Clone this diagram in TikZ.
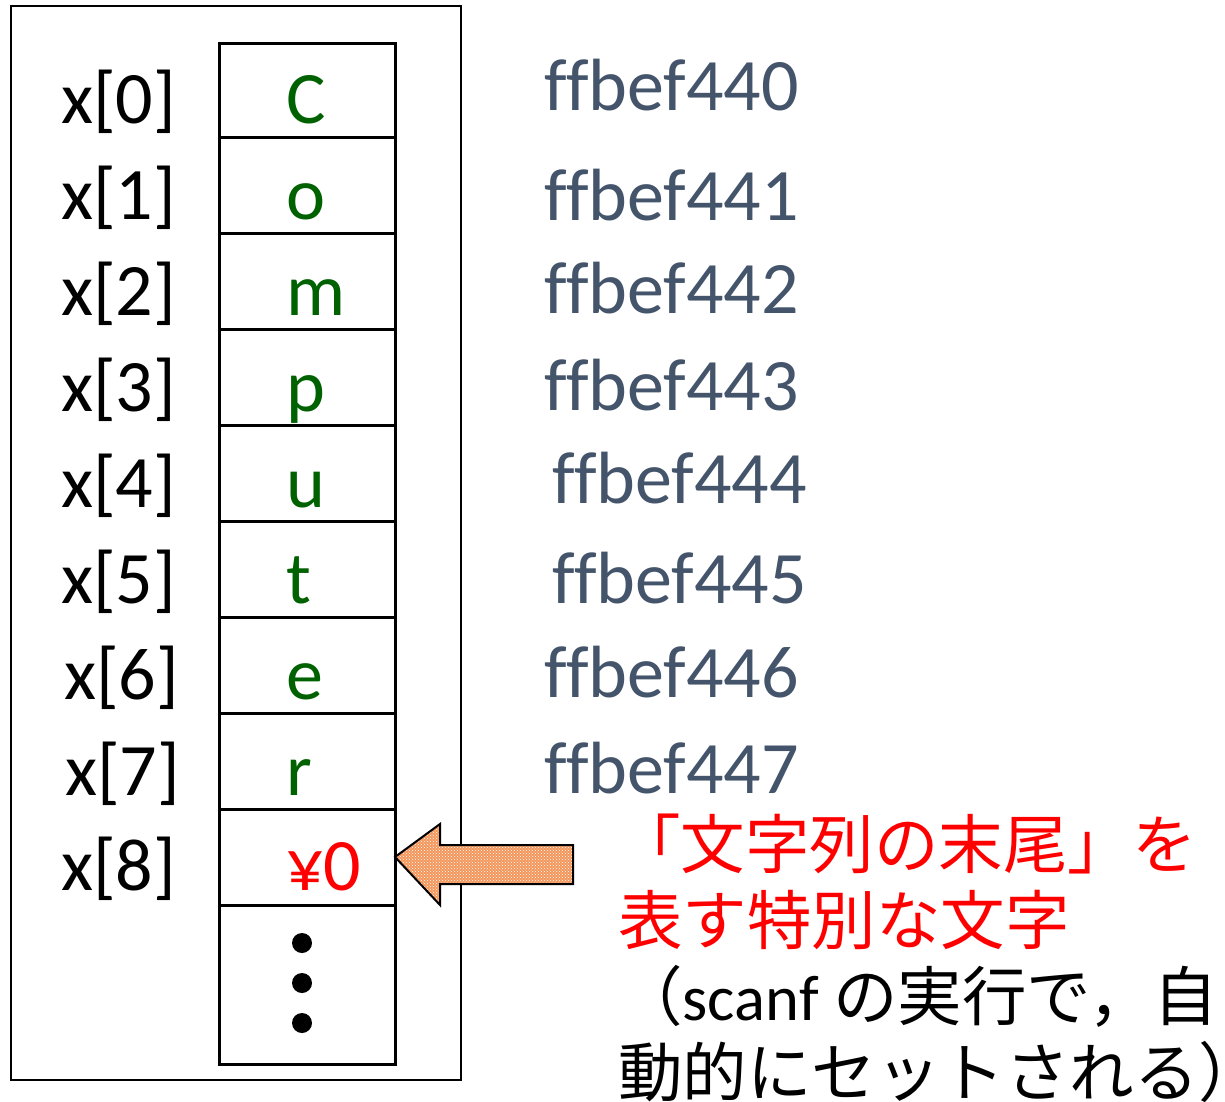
\documentclass[tikz,border=0pt]{standalone}
\usepackage{fontspec}
\usetikzlibrary{patterns}
\setmainfont[Ligatures=NoCommon]{Carlito}
\newfontfamily\jp{Noto Sans CJK JP}
\definecolor{cellgreen}{RGB}{0,97,0}
\definecolor{addrcol}{RGB}{68,84,106}
\definecolor{arrowfill}{RGB}{244,150,90}
\begin{document}
\begin{tikzpicture}[x=1pt,y=-1pt,
  cellbox/.style={draw=black,line width=3pt,minimum width=176pt,inner sep=0pt,outer sep=0pt},
  idx/.style={anchor=base west,inner sep=0pt,font=\fontsize{74}{88}\selectfont},
  val/.style={anchor=base west,inner sep=0pt,text=cellgreen,font=\fontsize{74}{88}\selectfont},
  addr/.style={anchor=base west,inner sep=0pt,text=addrcol,font=\fontsize{74}{88}\selectfont},
  note/.style={anchor=base west,inner sep=0pt,font=\fontsize{64.5}{76}\selectfont},
  dotc/.style={circle,fill=black,inner sep=0pt,minimum size=20pt}]
\useasboundingbox (0,0) rectangle (1225,1101);
% outer frame
\node[draw=black,line width=1.8pt,inner sep=0pt,minimum width=450pt,minimum height=1074pt] (frame) at (236,543) {};
% cells
\node[cellbox,minimum height=94pt] (c0) at (307,90) {};
\foreach \i in {1,...,8}{
  \node[cellbox,minimum height=96pt] (c\i) at (307,{185+96*(\i-1)}) {};
}
\node[cellbox,minimum height=159pt] (c9) at (307,984.5) {};
% index labels
\node[idx] (l0) at (61,123) {x[0]};
\node[idx] (l1) at (61,219) {x[1]};
\node[idx] (l2) at (61,315) {x[2]};
\node[idx] (l3) at (61,411) {x[3]};
\node[idx] (l4) at (61,507) {x[4]};
\node[idx] (l5) at (61,603) {x[5]};
\node[idx] (l6) at (64,699) {x[6]};
\node[idx] (l7) at (65,795) {x[7]};
\node[idx] (l8) at (61,890) {x[8]};
% values
\node[val] (v0) at (286,123) {C};
\node[val] (v1) at (286,219) {o};
\node[val] (v2) at (286,315) {m};
\node[val] (v3) at (286,411) {p};
\node[val] (v4) at (286,507) {u};
\node[val] (v5) at (286,603) {t};
\node[val] (v6) at (286,699) {e};
\node[val] (v7) at (286,795) {r};
\node[val,text=red] (v8) at (286,890) {¥0};
% dots
\node[dotc] (d1) at (302,943) {};
\node[dotc] (d2) at (302,983) {};
\node[dotc] (d3) at (302,1023) {};
% addresses
\node[addr] (a0) at (544,110) {ffbef440};
\node[addr] (a1) at (544,220) {ffbef441};
\node[addr] (a2) at (544,313) {ffbef442};
\node[addr] (a3) at (544,410) {ffbef443};
\node[addr] (a4) at (552,503) {ffbef444};
\node[addr] (a5) at (552,603) {ffbef445};
\node[addr] (a6) at (544,697) {ffbef446};
\node[addr] (a7) at (544,793) {ffbef447};
% block arrow
\path[fill=arrowfill]
  (c8.east) -- (440,824) -- (440,845) -- (573,845) -- (573,884) -- (440,884) -- (440,905) -- cycle;
\path[pattern=crosshatch dots,pattern color=white]
  (c8.east) -- (440,824) -- (440,845) -- (573,845) -- (573,884) -- (440,884) -- (440,905) -- cycle;
\draw[line width=2pt,line join=miter]
  (c8.east) -- (440,824) -- (440,845) -- (573,845) -- (573,884) -- (440,884) -- (440,905) -- cycle;
% notes
\node[note,text=red] (n1) at (616,868) {\jp 「文字列の末尾」を};
\node[note,text=red] (n2) at (618,944) {\jp 表す特別な文字};
\node[note] (n3) at (618,1020) {{\jp （}scanf {\jp の実行で，自}};
\node[note] (n4) at (618,1096) {\jp 動的にセットされる）};
\end{tikzpicture}
\end{document}
